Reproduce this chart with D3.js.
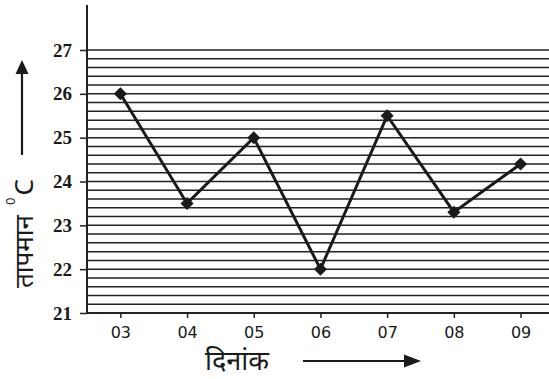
<!DOCTYPE html>
<html>
<head>
<meta charset="utf-8">
<script src="https://cdn.jsdelivr.net/npm/d3@7"></script>
<style>
  body { margin: 0; background: #fff; }
  svg { display: block; }
</style>
</head>
<body>
<div id="chart"></div>
<script>
// dates and temperature readings
const dates = ["03", "04", "05", "06", "07", "08", "09"];
const temps = [26, 23.5, 25, 22, 25.5, 23.3, 24.4];
const yTicks = [21, 22, 23, 24, 25, 26, 27];

const W = 549, H = 379;
const margin = {left: 87, top: 5, right: 0, bottom: 66};
const plotBottom = H - margin.bottom; // 313
const ink = "#1a1a1a";

const svg = d3.select("#chart").append("svg")
    .attr("width", W)
    .attr("height", H);

const x = d3.scalePoint()
    .domain(dates)
    .range([margin.left, margin.left + 66.7 * 7])
    .padding(0.5);

const y = d3.scaleLinear()
    .domain([21, 27])
    .range([plotBottom, 50]);

// horizontal rules every 0.2 degree
const grid = d3.range(21.2, 27.01, 0.2);
svg.append("g").selectAll("line")
    .data(grid)
    .join("line")
    .attr("x1", margin.left)
    .attr("x2", W)
    .attr("y1", d => y(d))
    .attr("y2", d => y(d))
    .attr("stroke", "#222")
    .attr("stroke-width", 1.5);

// y axis
const yAxis = svg.append("g")
    .attr("transform", `translate(${margin.left},0)`)
    .call(d3.axisLeft(y).tickValues(yTicks).tickFormat(d3.format("d")).tickSize(7).tickPadding(8));
yAxis.attr("font-family", "Liberation Serif").attr("font-size", 19);
yAxis.select(".domain").remove();
yAxis.selectAll(".tick line").attr("stroke", "#222").attr("stroke-width", 1.5);
yAxis.selectAll("text")
    .attr("font-weight", "bold")
    .attr("fill", ink);
svg.append("line")
    .attr("x1", margin.left).attr("x2", margin.left)
    .attr("y1", margin.top).attr("y2", plotBottom)
    .attr("stroke", "#222").attr("stroke-width", 2);

// x axis
const xAxis = svg.append("g")
    .attr("transform", `translate(0,${plotBottom})`)
    .call(d3.axisBottom(x).tickSize(5).tickPadding(9));
xAxis.attr("font-family", "DejaVu Sans").attr("font-size", 16);
xAxis.select(".domain")
    .attr("d", `M${margin.left},0H${W}`)
    .attr("stroke", "#222").attr("stroke-width", 2);
xAxis.selectAll(".tick line").attr("stroke", "#222").attr("stroke-width", 1.5);
xAxis.selectAll("text").attr("fill", ink);

// data line
const pts = dates.map((d, i) => ({date: d, t: temps[i]}));
svg.append("path")
    .datum(pts)
    .attr("fill", "none")
    .attr("stroke", ink)
    .attr("stroke-width", 3)
    .attr("d", d3.line().x(d => x(d.date)).y(d => y(d.t)));

svg.append("g").selectAll("path")
    .data(pts)
    .join("path")
    .attr("transform", d => `translate(${x(d.date)},${y(d.t)}) rotate(45)`)
    .attr("d", d3.symbol(d3.symbolSquare, 85))
    .attr("fill", ink);

// arrows
svg.append("line")
    .attr("x1", 22).attr("x2", 22)
    .attr("y1", 155).attr("y2", 72)
    .attr("stroke", ink).attr("stroke-width", 2.2);
svg.append("path")
    .attr("d", "M22,60L15.5,74L28.5,74Z")
    .attr("fill", ink);

svg.append("line")
    .attr("x1", 303).attr("x2", 406)
    .attr("y1", 361).attr("y2", 361)
    .attr("stroke", ink).attr("stroke-width", 2.2);
svg.append("path")
    .attr("d", "M421,361L404,354.5L404,367.5Z")
    .attr("fill", ink);

// axis titles
const yTitle = svg.append("text")
    .attr("transform", "translate(33,288) rotate(-90)")
    .attr("font-family", "Noto Sans")
    .attr("font-size", 26)
    .attr("fill", ink);
yTitle.append("tspan").text("तापमान");
yTitle.append("tspan").attr("dx", 10).attr("dy", -18).attr("font-size", 13).text("0");
yTitle.append("tspan").attr("dx", 2).attr("dy", 18).attr("font-size", 26).text("C");

svg.append("text")
    .attr("x", 205).attr("y", 370)
    .attr("font-family", "Noto Sans")
    .attr("font-size", 27)
    .attr("fill", ink)
    .text("दिनांक");
</script>
</body>
</html>
